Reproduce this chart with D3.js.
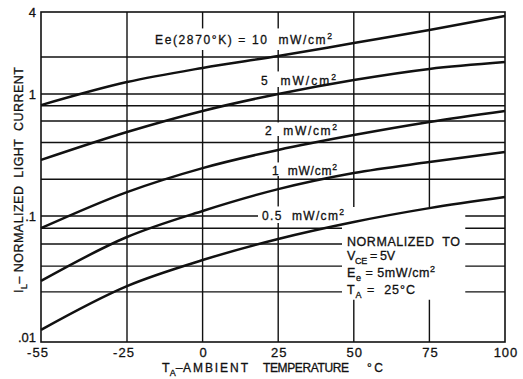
<!DOCTYPE html>
<html>
<head>
<meta charset="utf-8">
<script src="https://cdn.jsdelivr.net/npm/d3@7"></script>
<style>
  body { margin: 0; background: #fff; }
  svg { display: block; font-family: "Liberation Sans", Arial, sans-serif; }
  text { stroke: #111; stroke-width: 0.3px; }
</style>
</head>
<body>
<svg width="523" height="379"></svg>
<script>
const temps = [-55, -25, 0, 25, 50, 75, 100];

// normalized light current, one array per irradiance
const irr10 = [0.81, 1.25, 1.63, 2.03, 2.48, 3.03, 3.76];
const irr5  = [0.288, 0.488, 0.726, 1.0, 1.30, 1.60, 1.82];
const irr2  = [0.080, 0.157, 0.247, 0.348, 0.461, 0.590, 0.726];
const irr1  = [0.0305, 0.0681, 0.110, 0.166, 0.225, 0.277, 0.335];
const irr05 = [0.0125, 0.0278, 0.0447, 0.0657, 0.0896, 0.116, 0.143];
const series = [irr10, irr5, irr2, irr1, irr05];

// axes
const xTicks = [-55, -25, 0, 25, 50, 75, 100];
const xTickLabels = ["-55", "-25", "0", "25", "50", "75", "100"];
const xGrid = [-25, 0, 25, 50, 75];
const yGrid = [0.025, 0.04, 0.06, 0.08, 0.1, 0.2, 0.4, 0.6, 0.8, 1, 2];
const yTicks = [0.01, 0.1, 1, 4];
const yTickLabels = [".01", ".1", "1", "4"];

const svg = d3.select("svg");

// hand drawn sheet: the decades are not all the same length
const x = d3.scaleLinear().domain([-55, -25, 100]).range([41, 127, 505]);
const y = d3.scaleLog().domain([0.01, 0.1, 1, 2, 4]).range([342, 216, 94, 57, 12]);

const gridG = svg.append("g").attr("stroke", "#111").attr("stroke-width", 1.4);
const maskG = svg.append("g").attr("fill", "#fff");
const curveG = svg.append("g");
const textG = svg.append("g").attr("fill", "#111");

// grid
gridG.selectAll(".hg")
  .data(yGrid)
  .join("line")
  .attr("class", "hg")
  .attr("x1", x(-55)).attr("x2", x(100))
  .attr("y1", d => y(d)).attr("y2", d => y(d));

gridG.selectAll(".vg")
  .data(xGrid)
  .join("line")
  .attr("class", "vg")
  .attr("x1", d => x(d)).attr("x2", d => x(d))
  .attr("y1", y(4)).attr("y2", y(0.01));

// curves
const line = d3.line()
  .x((d, i) => x(temps[i]))
  .y(d => y(d))
  .curve(d3.curveMonotoneX);

curveG.selectAll("path")
  .data(series)
  .join("path")
  .attr("d", line)
  .attr("fill", "none")
  .attr("stroke", "#111")
  .attr("stroke-width", 2.5);

// frame
svg.append("rect")
  .attr("x", x(-55)).attr("y", y(4))
  .attr("width", x(100) - x(-55)).attr("height", y(0.01) - y(4))
  .attr("fill", "none").attr("stroke", "#111").attr("stroke-width", 1.6);

// text with sub/superscripts: parts = [string, shift] (1 sup, -1 sub)
function addText(g, o) {
  const t = g.append("text")
    .attr("x", o.x).attr("y", o.y)
    .attr("xml:space", "preserve")
    .style("font-size", o.size + "px");
  if (o.w) t.attr("textLength", o.w).attr("lengthAdjust", "spacing");
  let cur = 0;
  o.parts.forEach(([s, shift]) => {
    const target = shift === 1 ? -o.size * 0.38 : shift === -1 ? o.size * 0.3 : 0;
    t.append("tspan")
      .attr("dy", target - cur)
      .style("font-size", shift ? (o.size * 0.72) + "px" : null)
      .text(s);
    cur = target;
  });
  return t;
}

function maskFor(t, pad) {
  const b = t.node().getBBox();
  maskG.append("rect")
    .attr("x", b.x - pad[0]).attr("y", b.y - pad[1])
    .attr("width", b.width + pad[0] + pad[2])
    .attr("height", b.height + pad[1] + pad[3]);
}

// curve labels
const curveLabels = [
  { parts: [["Ee(2870°K) = 10  mW/cm", 0], ["2", 1]], x: 155, y: 44, w: 177, pad: [4, 3, 4, 3] },
  { parts: [["5  mW/cm", 0], ["2", 1]], x: 261, y: 85, w: 75, pad: [3, 1, 3, -1] },
  { parts: [["2  mW/cm", 0], ["2", 1]], x: 265, y: 135, w: 72, pad: [3, 0, 3, -2] },
  { parts: [["1  mW/cm", 0], ["2", 1]], x: 272, y: 175, w: 65, pad: [3, 0, 3, -2] },
  { parts: [["0.5  mW/cm", 0], ["2", 1]], x: 262, y: 220, w: 82, pad: [4, 1, 3, 0] }
];
curveLabels.forEach(o => {
  o.size = 12;
  const t = addText(textG, o);
  maskFor(t, o.pad);
});

// normalization note
const note = [
  { parts: [["NORMALIZED  TO", 0]], x: 347, y: 246, w: 113 },
  { parts: [["V", 0], ["CE", -1], [" = 5V", 0]], x: 347, y: 260, w: 48 },
  { parts: [["E", 0], ["e", -1], [" = 5mW/cm", 0], ["2", 1]], x: 347, y: 277, w: 88 },
  { parts: [["T", 0], ["A", -1], [" =  25°C", 0]], x: 347, y: 294, w: 68 }
];
const noteNodes = note.map(o => { o.size = 12.5; return addText(textG, o).node(); });
const nb = noteNodes.map(n => n.getBBox());
const nx0 = d3.min(nb, b => b.x), nx1 = d3.max(nb, b => b.x + b.width);
const ny0 = d3.min(nb, b => b.y), ny1 = d3.max(nb, b => b.y + b.height);
maskG.append("rect")
  .attr("x", nx0 - 5).attr("y", ny0 - 28)
  .attr("width", nx1 - nx0 + 10).attr("height", ny1 - ny0 + 28);

// y tick labels
textG.selectAll(".yt")
  .data(yTicks)
  .join("text")
  .attr("class", "yt")
  .attr("x", 36)
  .attr("y", d => Math.min(y(d), 337))
  .attr("dy", "0.36em")
  .attr("text-anchor", "end")
  .style("font-size", "13px")
  .text((d, i) => yTickLabels[i]);

// x tick labels
textG.selectAll(".xt")
  .data(xTicks)
  .join("text")
  .attr("class", "xt")
  .attr("x", d => x(d) + (d < 0 ? -3 : 1))
  .attr("y", 357)
  .attr("text-anchor", "middle")
  .style("font-size", "13px")
  .style("letter-spacing", "1px")
  .text((d, i) => xTickLabels[i]);

// x axis title
addText(textG, { parts: [["T", 0], ["A", -1], ["–", 0]], x: 162, y: 372, size: 12.5 });
addText(textG, { parts: [["AMBIENT", 0]], x: 183, y: 372, w: 65, size: 12 });
addText(textG, { parts: [["TEMPERATURE", 0]], x: 263, y: 372, w: 86, size: 12 });
addText(textG, { parts: [["°C", 0]], x: 367, y: 372, w: 16, size: 12 });

// y axis title
const yTitleG = textG.append("g").attr("transform", "translate(23,293) rotate(-90)");
addText(yTitleG, { parts: [["I", 0], ["L", -1], ["– NORMALIZED  LIGHT  CURRENT", 0]], x: 0, y: 0, w: 226, size: 12.5 });
</script>
</body>
</html>
